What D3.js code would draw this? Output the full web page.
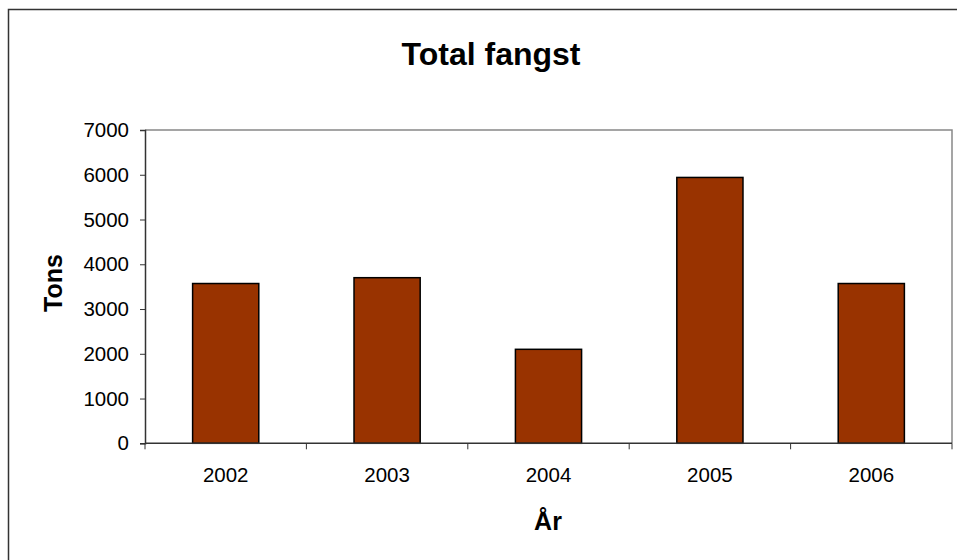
<!DOCTYPE html>
<html>
<head>
<meta charset="utf-8">
<script src="https://cdn.jsdelivr.net/npm/d3@7"></script>
<style>
  body { margin: 0; background: #fff; }
  text { font-family: "Liberation Sans", Arial, sans-serif; }
</style>
</head>
<body>
<div id="chart"></div>
<script>
// data
var years = ['2002', '2003', '2004', '2005', '2006'];
var tons = [3570, 3700, 2100, 5940, 3570];
var yTicks = [0, 1000, 2000, 3000, 4000, 5000, 6000, 7000];

var w = 957, h = 560;
var m = { left: 145, right: 5, top: 130, bottom: 116.7 };

var svg = d3.select('#chart')
            .append('svg')
            .attr('width', w)
            .attr('height', h);

// outer frame
svg.append('rect')
    .attr('x', 8.5).attr('y', 9.5)
    .attr('width', 960).attr('height', 560)
    .attr('fill', 'none')
    .attr('stroke', '#333')
    .attr('stroke-width', 1.5);

var x = d3.scaleBand()
    .domain(years)
    .range([m.left, w - m.right]);

var y = d3.scaleLinear()
    .domain([0, 7000])
    .range([h - m.bottom, m.top]);

// plot area border (top & right grey)
svg.append('path')
    .attr('d', 'M' + m.left + ',' + m.top + 'H' + (w - m.right) + 'V' + y(0))
    .attr('fill', 'none')
    .attr('stroke', '#888')
    .attr('stroke-width', 1.5);

// bars
var bw = x.bandwidth() * 0.41;
svg.selectAll('rect.bar')
    .data(tons)
  .enter()
  .append('rect')
    .attr('class', 'bar')
    .attr('x', function(d, i) { return x(years[i]) + x.bandwidth() / 2 - bw / 2; })
    .attr('y', function(d) { return y(d); })
    .attr('width', bw)
    .attr('height', function(d) { return y(0) - y(d); })
    .attr('fill', '#993300')
    .attr('stroke', '#000')
    .attr('stroke-width', 1.5);

// y axis
var yAxis = svg.append('g')
    .attr('transform', 'translate(' + m.left + ',0)')
    .call(d3.axisLeft(y).tickValues(yTicks).tickSize(5).tickPadding(11).tickFormat(d3.format('d')));
yAxis.select('.domain').attr('stroke', '#333').attr('stroke-width', 1.5);
yAxis.selectAll('.tick line').attr('stroke', '#333');
yAxis.selectAll('text').attr('font-size', 20.5).attr('fill', '#000')
    .style('font-family', '"Liberation Sans", Arial, sans-serif');

// x axis: ticks between categories
var xAxis = svg.append('g')
    .attr('transform', 'translate(0,' + y(0) + ')');
xAxis.append('line')
    .attr('x1', m.left).attr('x2', w - m.right)
    .attr('stroke', '#333').attr('stroke-width', 1.5);
var edges = years.map(function(d) { return x(d); }).concat([w - m.right]);
xAxis.selectAll('line.tk')
    .data(edges)
  .enter()
  .append('line')
    .attr('class', 'tk')
    .attr('x1', function(d) { return d; })
    .attr('x2', function(d) { return d; })
    .attr('y1', 0).attr('y2', 6)
    .attr('stroke', '#333');
xAxis.selectAll('text')
    .data(years)
  .enter()
  .append('text')
    .attr('x', function(d) { return x(d) + x.bandwidth() / 2; })
    .attr('y', 38.5)
    .attr('text-anchor', 'middle')
    .attr('font-size', 20.5)
    .text(function(d) { return d; });

// title and axis labels
svg.append('text')
    .attr('x', 491).attr('y', 65)
    .attr('text-anchor', 'middle')
    .attr('font-size', 32).attr('font-weight', 'bold')
    .text('Total fangst');

svg.append('text')
    .attr('transform', 'translate(62,283) rotate(-90)')
    .attr('text-anchor', 'middle')
    .attr('font-size', 25).attr('font-weight', 'bold')
    .text('Tons');

svg.append('text')
    .attr('x', 548).attr('y', 530)
    .attr('text-anchor', 'middle')
    .attr('font-size', 25).attr('font-weight', 'bold')
    .text('År');
</script>
</body>
</html>
